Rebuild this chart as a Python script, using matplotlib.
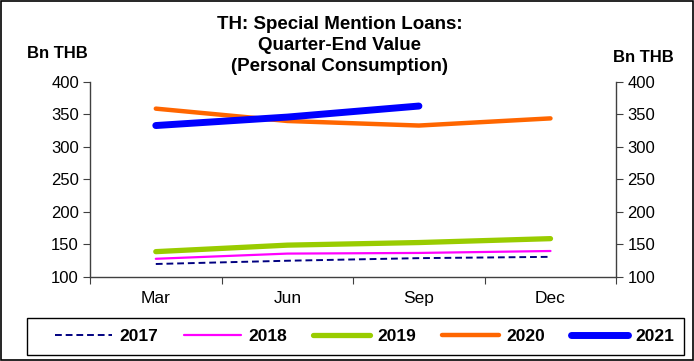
import matplotlib
matplotlib.use("Agg")
import matplotlib.pyplot as plt
from matplotlib.patches import Rectangle

plt.rcParams['font.family'] = ['Liberation Sans', 'DejaVu Sans']

categories = ["Mar", "Jun", "Sep", "Dec"]
years = ["2017", "2018", "2019", "2020", "2021"]
v2017 = [120, 125, 129, 131]
v2018 = [128, 136, 137, 140]
v2019 = [139, 149, 153, 159]
v2020 = [359, 340, 333, 344]
v2021 = [333, 346, 363]
yticks = [100, 150, 200, 250, 300, 350, 400]

series = [v2017, v2018, v2019, v2020, v2021]
colors = ["#000080", "#FF00FF", "#99CC00", "#FF6600", "#0000FF"]
widths = [1.4, 1.6, 3.8, 3.2, 5.0]
styles = [(0, (3.5, 2)), "-", "-", "-", "-"]

fig = plt.figure(figsize=(6.94, 3.61), dpi=100)
ax = fig.add_axes([0.1297, 0.2327, 0.7583, 0.5402])
x = list(range(len(categories)))
handles = []
for yr, vals, c, w, ls in zip(years, series, colors, widths, styles):
    h, = ax.plot(x[:len(vals)], vals, color=c, lw=w, ls=ls, label=yr,
                 solid_capstyle='round', dash_capstyle='butt')
    handles.append(h)

ax.set_xlim(-0.5, 3.5)
ax.set_ylim(100, 400)
ax.set_yticks(yticks)
ax.set_xticks([-0.5, 0.5, 1.5, 2.5, 3.5])
ax.set_xticklabels([])
ax.set_xticks(x, minor=True)
ax.set_xticklabels(categories, minor=True, fontsize=12.5)
ax.tick_params(axis='x', which='minor', length=0, pad=10)
ax.tick_params(axis='x', which='major', length=5, color='#404040', direction='out')
ax.tick_params(axis='y', labelsize=12, length=5, color='#404040', direction='out', pad=3,
               left=True, right=True, labelleft=True, labelright=True)
ax.spines['top'].set_visible(False)
for s in ['left', 'right', 'bottom']:
    ax.spines[s].set_color('#404040')
    ax.spines[s].set_linewidth(1.0)

fig.text(0.489, 0.955, "TH: Special Mention Loans:\nQuarter-End Value\n(Personal Consumption)",
         ha='center', va='top', fontsize=13.5, fontweight='bold', linespacing=1.28)
fig.text(0.083, 0.852, "Bn THB", ha='center', va='center', fontsize=12, fontweight='bold')
fig.text(0.927, 0.842, "Bn THB", ha='center', va='center', fontsize=12, fontweight='bold')

# legend frame box
fig.patches.append(Rectangle((27 / 694, 1 - 355 / 361), 657 / 694, 37 / 361,
                             transform=fig.transFigure, fill=False,
                             edgecolor='black', lw=1.0))
leg = fig.legend(handles=handles, loc='center',
                 bbox_to_anchor=(364.5 / 694, 1 - 336.5 / 361),
                 bbox_transform=fig.transFigure,
                 ncol=5, frameon=False,
                 handlelength=3.3, handletextpad=0.4, columnspacing=1.5,
                 prop={'weight': 'bold', 'size': 12.5}, borderpad=0, borderaxespad=0)

fig.patches.append(Rectangle((0.002, 0.002), 0.996, 0.994, transform=fig.transFigure,
                             fill=False, edgecolor='black', lw=1.2))

fig.savefig("out.png", dpi=100)
